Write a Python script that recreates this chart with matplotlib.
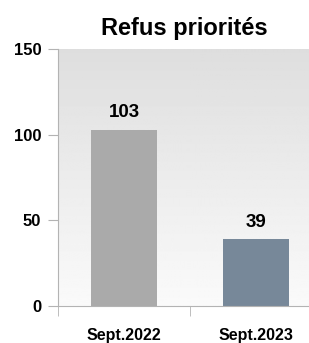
import matplotlib
matplotlib.use("Agg")
import matplotlib.pyplot as plt
import numpy as np

categories = ["Sept.2022", "Sept.2023"]
values = [103, 39]
colors = ["#aaaaaa", "#778899"]
title = "Refus priorités"

plt.rcParams["font.family"] = ["Liberation Sans", "DejaVu Sans"]

fig = plt.figure(figsize=(3.09, 3.43), dpi=100)
ax = fig.add_axes([58 / 309, 1 - 306 / 343, 264 / 309, 257 / 343])

x = np.arange(len(categories))
ax.set_xlim(-0.5, len(categories) - 0.5)
ax.set_ylim(0, 150)

# vertical gradient background
grad = np.linspace(0.87, 0.98, 256).reshape(-1, 1)
ax.imshow(grad, cmap="gray", vmin=0, vmax=1, aspect="auto",
          extent=[-0.5, len(categories) - 0.5, 0, 150], origin="upper", zorder=0)

bars = ax.bar(x, values, 0.5, color=colors, zorder=2)
for bar, val in zip(bars, values):
    ax.text(bar.get_x() + bar.get_width() / 2, bar.get_height() + 5,
            f"{val}", ha="center", va="bottom", fontsize=13.5, fontweight="bold")

ax.set_yticks([0, 50, 100, 150])
ax.set_yticklabels(["0", "50", "100", "150"], fontsize=12, fontweight="bold")
ax.tick_params(axis="y", length=7, color="#b3b3b3", pad=5)

ax.set_xticks(x)
ax.set_xticklabels(categories, fontsize=11.5, fontweight="bold")
ax.tick_params(axis="x", which="major", length=0, pad=16)
ax.set_xticks(np.arange(-0.5, len(categories)), minor=True)
ax.tick_params(axis="x", which="minor", length=7, color="#b3b3b3")

for s in ["top", "right"]:
    ax.spines[s].set_visible(False)
for s in ["left", "bottom"]:
    ax.spines[s].set_color("#b3b3b3")

fig.text(184 / 309, 1 - 28 / 343, title, ha="center", va="center",
         fontsize=17, fontweight="bold")

fig.savefig("out.png", dpi=100)
